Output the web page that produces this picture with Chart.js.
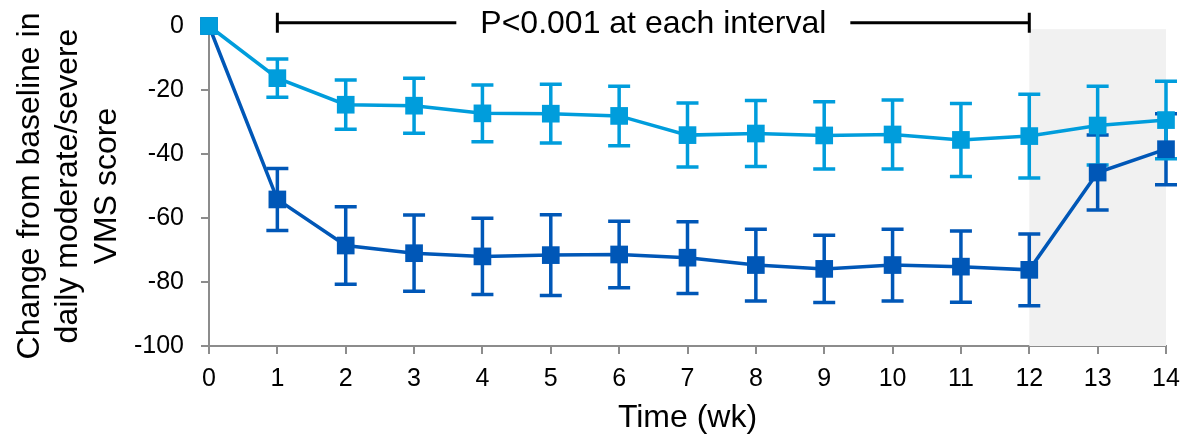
<!DOCTYPE html>
<html>
<head>
<meta charset="utf-8">
<script src="https://cdn.jsdelivr.net/npm/chart.js@4"></script>
<style>
  html, body { margin: 0; padding: 0; background: #fff; }
  #wrap { width: 1184px; height: 445px; position: relative; }
</style>
</head>
<body>
<div id="wrap"><canvas id="vmsChart"></canvas></div>
<script>
// weeks on the x axis
const weeks = [0, 1, 2, 3, 4, 5, 6, 7, 8, 9, 10, 11, 12, 13, 14];

// light blue series: mean change and error (+/-)
const lightMean = [0, -16.3, -24.6, -24.9, -27.3, -27.4, -28.1, -34.1, -33.6, -34.2, -33.9, -35.6, -34.4, -31.1, -29.4];
const lightErr  = [0, 6.0, 7.7, 8.6, 8.9, 9.2, 9.3, 10.0, 10.3, 10.5, 10.8, 11.4, 13.1, 12.3, 12.1];

// dark blue series
const darkMean = [0, -54.2, -68.6, -71.0, -72.0, -71.6, -71.4, -72.4, -74.7, -75.9, -74.7, -75.2, -76.2, -45.8, -38.5];
const darkErr  = [0, 9.7, 12.1, 11.9, 11.9, 12.6, 10.4, 11.2, 11.2, 10.5, 11.2, 11.1, 11.2, 11.7, 11.1];

const yTicks = [-100, -80, -60, -40, -20, 0];

// annotation: significance bracket and shaded follow-up window
const bracketFrom = 1;
const bracketTo = 12;
const bracketLabel = 'P<0.001 at each interval';
const shadeFrom = 12;
const shadeTo = 14;

const LIGHT = '#009DDC';
const DARK = '#0057B7';
const AXIS = '#8c8c8c';
const FONT = '"Liberation Sans", Arial, sans-serif';

const toPoints = (ys) => weeks.map((w, i) => ({ x: w, y: ys[i] }));

const shadePlugin = {
  id: 'shade',
  beforeDatasetsDraw(chart) {
    const { ctx, scales: { x, y } } = chart;
    const x0 = x.getPixelForValue(shadeFrom);
    const x1 = x.getPixelForValue(shadeTo);
    const y0 = y.getPixelForValue(-1);
    const y1 = y.getPixelForValue(-100);
    ctx.save();
    ctx.fillStyle = '#f1f1f1';
    ctx.fillRect(x0, y0, x1 - x0, y1 - y0);
    ctx.restore();
  }
};

const errorBarPlugin = {
  id: 'errorBars',
  beforeDatasetsDraw(chart) {
    const { ctx, scales: { x, y } } = chart;
    const sets = [[darkMean, darkErr, DARK], [lightMean, lightErr, LIGHT]];
    ctx.save();
    ctx.lineWidth = 3.5;
    sets.forEach(([mean, err, col]) => {
      ctx.strokeStyle = col;
      weeks.forEach((w, i) => {
        if (!err[i]) return;
        const px = x.getPixelForValue(w);
        const top = y.getPixelForValue(mean[i] + err[i]);
        const bot = y.getPixelForValue(mean[i] - err[i]);
        ctx.beginPath();
        ctx.moveTo(px, top); ctx.lineTo(px, bot);
        ctx.moveTo(px - 11, top); ctx.lineTo(px + 11, top);
        ctx.moveTo(px - 11, bot); ctx.lineTo(px + 11, bot);
        ctx.stroke();
      });
    });
    ctx.restore();
  }
};

const bracketPlugin = {
  id: 'bracket',
  afterDraw(chart) {
    const { ctx, scales: { x, y } } = chart;
    const xa = x.getPixelForValue(bracketFrom);
    const xb = x.getPixelForValue(bracketTo);
    const by = y.getPixelForValue(1);
    const cx = (xa + xb) / 2;
    ctx.save();
    ctx.font = '32px ' + FONT;
    const tw = ctx.measureText(bracketLabel).width;
    ctx.fillStyle = '#000';
    ctx.textAlign = 'center';
    ctx.textBaseline = 'middle';
    ctx.fillText(bracketLabel, cx, by + 1);
    ctx.strokeStyle = '#000';
    ctx.lineWidth = 3;
    ctx.beginPath();
    ctx.moveTo(xa, by); ctx.lineTo(cx - tw / 2 - 24, by);
    ctx.moveTo(cx + tw / 2 + 24, by); ctx.lineTo(xb, by);
    ctx.moveTo(xa, by - 10); ctx.lineTo(xa, by + 10);
    ctx.moveTo(xb, by - 10); ctx.lineTo(xb, by + 10);
    ctx.stroke();
    ctx.restore();
  }
};

const ctx = document.getElementById('vmsChart').getContext('2d');
const vmsChart = new Chart(ctx, {
  type: 'line',
  data: {
    datasets: [
      {
        label: 'Light',
        data: toPoints(lightMean),
        borderColor: LIGHT,
        backgroundColor: LIGHT,
        borderWidth: 3.5,
        pointStyle: 'rect',
        pointRadius: 12.5,
        pointHoverRadius: 12.5,
        pointBorderWidth: 0,
        tension: 0,
        clip: false
      },
      {
        label: 'Dark',
        data: toPoints(darkMean),
        borderColor: DARK,
        backgroundColor: DARK,
        borderWidth: 3.5,
        pointStyle: 'rect',
        pointRadius: 12.5,
        pointHoverRadius: 12.5,
        pointBorderWidth: 0,
        tension: 0,
        clip: false
      }
    ]
  },
  options: {
    responsive: true,
    maintainAspectRatio: false,
    animation: false,
    layout: { padding: { top: 26, right: 18, left: 0, bottom: 0 } },
    plugins: {
      legend: { display: false },
      tooltip: { enabled: false }
    },
    scales: {
      x: {
        type: 'linear',
        min: 0,
        max: 14,
        afterFit: (s) => { s.height = 99; s.paddingLeft = 0; s.paddingRight = 0; },
        ticks: { stepSize: 1, color: '#000', padding: 10, font: { family: FONT, size: 25 } },
        grid: { drawOnChartArea: false, tickLength: 8, color: AXIS, lineWidth: 2 },
        border: { color: AXIS, width: 2 },
        title: {
          display: true,
          text: 'Time (wk)',
          color: '#000',
          font: { family: FONT, size: 32, lineHeight: 1.2 },
          padding: { top: 0, bottom: 8 }
        }
      },
      y: {
        min: -100,
        max: 0,
        afterFit: (s) => { s.width = 209; s.paddingTop = 0; s.paddingBottom = 0; },
        afterBuildTicks: (s) => { s.ticks = yTicks.map(v => ({ value: v })); },
        ticks: { color: '#000', padding: 17, font: { family: FONT, size: 25 } },
        grid: { drawOnChartArea: false, tickLength: 8, color: AXIS, lineWidth: 2 },
        border: { color: AXIS, width: 2 },
        title: {
          display: true,
          text: ['Change from baseline in', 'daily moderate/severe', 'VMS score'],
          color: '#000',
          font: { family: FONT, size: 32, lineHeight: 1.2 },
          padding: { top: 11, bottom: 0 }
        }
      }
    }
  },
  plugins: [shadePlugin, errorBarPlugin, bracketPlugin]
});
</script>
</body>
</html>
